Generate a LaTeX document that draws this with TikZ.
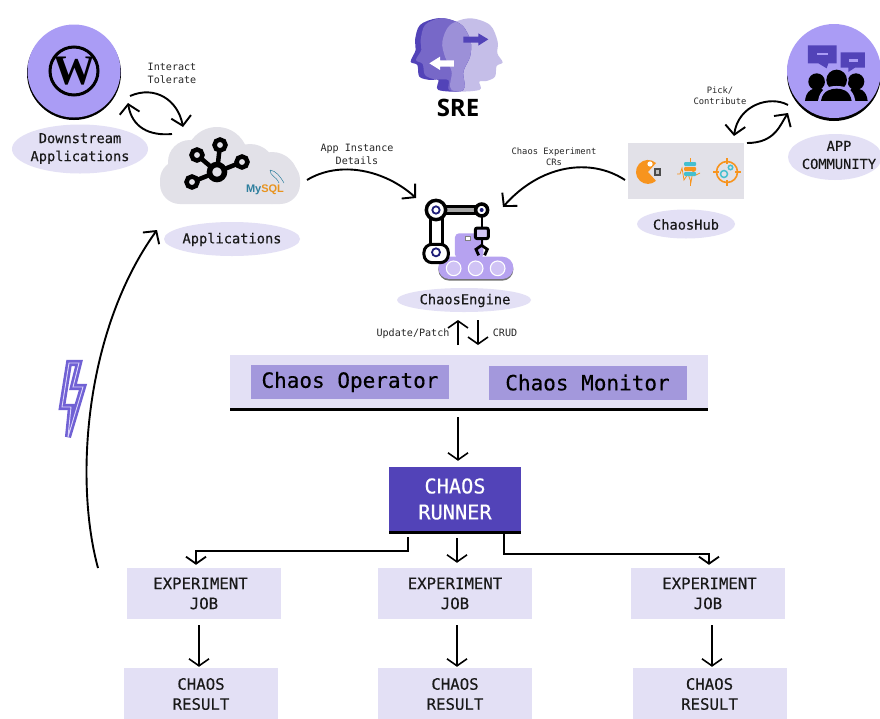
\documentclass[tikz,border=0pt]{standalone}
\usepackage{fontspec}
\setmainfont{DejaVu Sans Mono}
\newfontfamily\semib[FakeBold=0.3]{DejaVu Sans Mono}
\newfontfamily\srefont{Open Sans}
\newfontfamily\wpfont{Liberation Serif}
\newfontfamily\sqlfont{Liberation Sans}
\usetikzlibrary{arrows.meta,calc,shapes.geometric}
\definecolor{pale}{HTML}{E3E0F5}
\definecolor{lilac}{HTML}{AA9CF5}
\definecolor{midp}{HTML}{A398DC}
\definecolor{deep}{HTML}{5243B8}
\definecolor{medp}{HTML}{7768C8}
\definecolor{lighth}{HTML}{C5BEE8}
\definecolor{overl}{HTML}{9C90D8}
\definecolor{greyp}{HTML}{E2E1E8}
\definecolor{orng}{HTML}{F7941E}
\definecolor{teal1}{HTML}{45BFCF}
\definecolor{belt}{HTML}{B6A2F0}
\definecolor{navy1}{HTML}{1E1E78}
\definecolor{sqlb}{HTML}{2E7F9E}
\definecolor{sqlo}{HTML}{E8931E}
\definecolor{bolt}{HTML}{7061D4}
\newcommand{\rheadpath}{plot[smooth cycle,tension=.55] coordinates{(270,55)(330,75)(353,125)(352,160)(368,187)(350,198)(345,230)(320,243)(298,245)(298,270)(215,270)(215,215)(195,170)(187,125)(210,75)}}
\newcommand{\lheadpath}{plot[smooth cycle,tension=.55] coordinates{(170,55)(120,75)(105,120)(107,150)(92,185)(112,195)(118,230)(150,240)(175,240)(175,270)(250,270)(250,215)(270,170)(272,125)(250,80)(215,60)}}
\newcommand{\mheadpath}{plot[smooth cycle,tension=.55] coordinates{(178,55)(135,75)(122,120)(124,150)(108,180)(128,192)(135,225)(165,238)(205,240)(207,270)(250,270)(250,215)(270,170)(272,125)(250,80)(215,60)}}
\tikzset{
  oval/.style={ellipse,fill=pale,inner sep=0pt},
  lab/.style={align=center,inner sep=0pt,font=\semib\fontsize{13.7}{18}\selectfont,text=black!90},
  small/.style={align=center,inner sep=0pt,font=\fontsize{10.1}{13}\selectfont,text=black!85},
  tiny/.style={align=center,inner sep=0pt,font=\fontsize{8.8}{11.5}\selectfont,text=black!85},
  jobbox/.style={rectangle,fill=pale,minimum width=154pt,minimum height=51pt,inner sep=0pt,align=center,text=black!90,font=\semib\fontsize{15.7}{20}\selectfont},
  resbox/.style={jobbox,minimum height=52pt},
  inner/.style={rectangle,fill=midp,minimum width=198pt,minimum height=34pt,inner sep=0pt,text=black,font=\semib\fontsize{21}{24}\selectfont},
  kring/.style={circle,draw=black,fill=greyp,line width=4.5pt,minimum size=11pt,inner sep=0pt},
  arr/.style={line width=1.6pt,-{Straight Barb[length=7pt,width=20pt]}},
  curv/.style={line width=1.9pt,-{Straight Barb[length=9pt,width=20pt]}},
  elbow/.style={line width=1.8pt,-{Straight Barb[length=7pt,width=20pt]}},
}
\begin{document}
\begin{tikzpicture}[x=1pt,y=-1pt]
\useasboundingbox (0,0) rectangle (880,718);
\clip (0,0) rectangle (880,718);
\fill[white] (0,0) rectangle (880,718);

% ---- WordPress
\fill[black] (74,73) circle (47);
\node[circle,fill=lilac,minimum size=93pt,inner sep=0pt] (wp) at (74,71) {};
\node[circle,draw=black,line width=3pt,minimum size=48pt,inner sep=0pt] (wplogo) at (74,71) {};
\node[inner sep=0pt,font=\wpfont\bfseries\fontsize{42}{42}\selectfont] (wpw) at (74,71) {W};
\node[oval,minimum width=136pt,minimum height=49pt] (down) at (80,149) {};
\node[lab] (downt) at (80,148.5) {Downstream\\Applications};

% ---- Applications cloud
\fill[greyp,rounded corners=20pt] (160,160) rectangle (300,204);
\fill[greyp] (190,162) circle (22) (217,158) circle (31) (250,170) circle (26) (272,178) circle (26);
\coordinate (kcc) at (217,172);
\foreach \kx/\ky in {220/145,197/155,242/162,192/182}{\draw[line width=4.5pt] (kcc) -- (\kx,\ky);}
\node[circle,draw=black,fill=greyp,line width=5.5pt,minimum size=15pt,inner sep=0pt] (kc) at (217,172) {};
\node[kring] (k1) at (220,145) {};
\node[kring] (k2) at (197,155) {};
\node[kring] (k3) at (242,162) {};
\node[kring] (k4) at (192,182) {};
\node[inner sep=0pt,font=\sqlfont\bfseries\fontsize{11}{12}\selectfont] (mysql) at (265,190) {\textcolor{sqlb}{My}\textcolor{sqlo}{SQL}};
\draw[line width=.5pt,sqlb] (270,170) .. controls (276,171) and (280,176) .. (284,183) (270,170) .. controls (270,176) and (276,176) .. (279,183);
\node[oval,minimum width=136pt,minimum height=34pt] (appl) at (232,239) {};
\node[lab] (applt) at (232,239.5) {Applications};

% ---- SRE heads
\begin{scope}[shift={(380,0)},x=0.3333pt,y=-0.3333pt]
  \fill[lighth] \rheadpath;
  \fill[deep] \lheadpath;
  \fill[medp] \mheadpath;
  \begin{scope}
    \clip \lheadpath;
    \fill[overl] \rheadpath;
  \end{scope}
  \fill[deep] (250,110) -- (295,110) -- (295,100) -- (325,118) -- (295,137) -- (295,128) -- (250,128) -- cycle;
  \fill[white] (222,181) -- (180,181) -- (180,170) -- (148,190) -- (180,210) -- (180,200) -- (222,200) -- cycle;
\end{scope}
\node[inner sep=0pt,font=\srefont\bfseries\fontsize{24}{24}\selectfont] (sre) at (458,108) {SRE};

% ---- Community
\fill[black] (834,74) circle (47);
\node[circle,fill=lilac,minimum size=94pt,inner sep=0pt] (comm) at (834,71) {};
\begin{scope}[shift={(600,0)},x=0.3333pt,y=-0.3333pt]
  \fill[deep] (624,136) -- (710,136) -- (710,190) -- (685,190) -- (680,205) -- (655,190) -- (624,190) -- cycle;
  \fill[deep] (722,157) -- (795,157) -- (795,203) -- (765,203) -- (745,216) -- (745,203) -- (722,203) -- cycle;
  \fill[lilac] (650,158) rectangle (685,166);
  \fill[lilac] (746,177) rectangle (774,185);
  \fill[black] (650,245) circle (25) (768,245) circle (25);
  \fill[black] (615,303) .. controls (618,270) and (640,262) .. (665,265) -- (690,303) -- cycle;
  \fill[black] (803,303) .. controls (800,270) and (778,262) .. (755,265) -- (730,303) -- cycle;
  \fill[lilac] (710,240) circle (36);
  \fill[black] (710,240) circle (31);
  \fill[lilac] (654,303) .. controls (660,262) and (690,258) .. (710,258) .. controls (730,258) and (760,262) .. (766,303) -- cycle;
  \fill[black] (663,303) .. controls (668,270) and (695,266) .. (710,266) .. controls (725,266) and (750,270) .. (755,303) -- cycle;
\end{scope}
\node[oval,minimum width=94pt,minimum height=46pt] (commo) at (835,157) {};
\node[lab] (commt) at (839,155) {APP\\COMMUNITY};

% ---- ChaosHub
\node[rectangle,fill=greyp,minimum width=116pt,minimum height=56pt,inner sep=0pt] (hub) at (686,171) {};
\fill[orng] (648,172) -- (656,163) arc (-48:-312:12) -- cycle;
\fill[white] (650,164) circle (2.6);
\fill[black!70] (653.5,167.5) rectangle (661,175.5);
\fill[black!25] (655.5,169.5) rectangle (659,173.5);
\draw[orng,line width=.8pt] (677,174) -- (680,174) -- (682,168) -- (684,180) -- (688,174) -- (691,182) -- (693,170) -- (696,175) -- (700,173);
\draw[orng,line width=1pt] (690,158) -- (690,163) (690,181) -- (690,186);
\fill[teal1,rounded corners=1pt] (684,162) rectangle (696,166);
\fill[orng,rounded corners=1pt] (684,167) rectangle (696,171);
\fill[teal1,rounded corners=1pt] (684,172) rectangle (696,176);
\draw[orng,line width=1.6pt] (727,172) circle (10.5);
\draw[orng,line width=1.6pt] (713,172) -- (719,172) (735,172) -- (741,172) (727,158) -- (727,164) (727,180) -- (727,186);
\draw[teal1,line width=1.5pt] (724,174) circle (3.5) (730.5,167.5) circle (2.2);
\node[oval,minimum width=98pt,minimum height=29pt] (hubo) at (686,224) {};
\node[lab] (hubt) at (686,224.5) {ChaosHub};

% ---- Robot
\begin{scope}[shift={(360,190)},x=0.3333pt,y=-0.3333pt]
  \fill[belt,rounded corners=4pt] (285,130) rectangle (370,205);
  \fill[white,draw=black!50,line width=.4pt] (316,138) rectangle (332,152);
  \fill[black!55,rounded corners=11pt] (235,204) rectangle (460,272);
  \fill[belt,rounded corners=11pt] (235,200) rectangle (460,267);
  \foreach \cx in {281,347,413}{
    \fill[belt!65] (\cx,235) circle (22);
    \draw[white,line width=1.1pt] (\cx,235) circle (22);
  }
  \draw[line width=3pt,fill=white] (212,62) rectangle (248,180);
  \draw[line width=3pt,fill=black!35] (228,50) rectangle (365,70);
  \draw[line width=3pt,fill=white,rounded corners=8pt] (192,218) rectangle (265,163);
  \fill[white,draw=black,line width=3.5pt] (228,60) circle (29);
  \draw[navy1,line width=1.8pt] (228,60) circle (11);
  \fill[white,draw=black,line width=3.5pt] (365,60) circle (18);
  \fill[navy1] (365,60) circle (6);
  \draw[navy1,line width=1.8pt] (228,187) circle (12);
  \draw[line width=2pt] (365,78) -- (365,112);
  \draw[line width=3pt,fill=belt!60,rounded corners=2pt] (346,114) rectangle (385,146);
  \draw[line width=2pt] (365,146) -- (365,166);
  \draw[line width=2.8pt] (365,166) -- (348,178) -- (356,196) (365,166) -- (382,178) -- (374,196);
\end{scope}
\node[oval,minimum width=134pt,minimum height=24pt] (engo) at (464,300) {};
\node[lab] (engt) at (465,300.5) {ChaosEngine};

% ---- Operator panel
\fill[black] (230,356) rectangle (708,411);
\node[rectangle,fill=pale,minimum width=478pt,minimum height=53pt,inner sep=0pt] (panel) at (469,381.5) {};
\node[inner] (oper) at (350,382) {\raisebox{-1.5pt}{Chaos Operator}};
\node[inner] (moni) at (587.5,382.5) {\raisebox{-1pt}{Chaos Monitor}};

% ---- Runner
\fill[black] (389,468) rectangle (521,534);
\node[rectangle,fill=deep,minimum width=132pt,minimum height=64pt,inner sep=0pt,text=white,align=center,font=\semib\fontsize{20.3}{26}\selectfont] (runner) at (455,499) {CHAOS\\RUNNER};

% ---- Jobs and results
\node[jobbox] (job1) at (204,593.5) {\hspace*{-7pt}EXPERIMENT\\JOB};
\node[jobbox] (job2) at (455,593.5) {EXPERIMENT\\JOB};
\node[jobbox] (job3) at (708,593.5) {\hspace*{3pt}EXPERIMENT\\JOB};
\node[resbox] (res1) at (201,694) {CHAOS\\RESULT};
\node[resbox] (res2) at (455,694) {CHAOS\\RESULT};
\node[resbox] (res3) at (709.5,694) {CHAOS\\RESULT};

% ---- Lightning
\draw[bolt,line width=2.6pt,double=white!60!lilac,double distance=.9pt,line join=miter] (69,363) -- (79,363) -- (73,387) -- (83,387) -- (68,437) -- (71,407) -- (62,407) -- cycle;

% ---- Labels
\node[small] (il) at (172,73.5) {Interact\\Tolerate};
\node[small] (ai) at (357,154.5) {App Instance\\Details};
\node[tiny] (ce) at (554,156.5) {Chaos Experiment\\CRs};
\node[tiny] (pc) at (720,95.5) {Pick/\\Contribute};
\node[small] (up) at (413,334) {Update/Patch};
\node[small] (cr) at (505,333) {CRUD};

% ---- Named free ends
\coordinate (a1s) at (130,96);
\coordinate (a1e) at (183,127);
\coordinate (a2s) at (172,134);
\coordinate (a2e) at (128,103);
\coordinate (a3s) at (307,180);
\coordinate (a3e) at (416,198);
\coordinate (a4s) at (625,180);
\coordinate (a4e) at (503,207);
\coordinate (a5s) at (788,105);
\coordinate (a5e) at (734,136);
\coordinate (a6s) at (747,143);
\coordinate (a6e) at (788,113);
\coordinate (a7s) at (98,568);
\coordinate (a7e) at (157,230);
\coordinate (upb) at (458,345);
\coordinate (upt) at (458,320);
\coordinate (dnt) at (478,320);
\coordinate (dnb) at (478,345);

% ---- Connectors
\draw[curv] (a1s) .. controls (155,85) and (178,100) .. (a1e);
\draw[curv] (a2s) .. controls (150,136) and (132,128) .. (a2e);
\draw[curv] (a3s) .. controls (340,160) and (385,170) .. (a3e);
\draw[curv] (a4s) .. controls (590,157) and (540,165) .. (a4e);
\draw[curv] (a5s) .. controls (770,95) and (738,105) .. (a5e);
\draw[curv] (a6s) .. controls (775,143) and (780,125) .. (a6e);
\draw[curv] (a7s) .. controls (74,480) and (85,330) .. (a7e);
\draw[arr] (upb) -- (upt);
\draw[arr] (dnt) -- (dnb);
\draw[arr] ([xshift=-11pt,yshift=-9pt]panel.south) -- ([xshift=3pt,yshift=6pt]runner.north);
\draw[elbow] ([xshift=-47pt,yshift=-6pt]runner.south) -- ++(0,14) -| ([xshift=-8pt,yshift=3pt]job1.north);
\draw[arr] ([xshift=2pt,yshift=-7pt]runner.south) -- ([xshift=2pt,yshift=5pt]job2.north);
\draw[elbow] ([xshift=49pt,yshift=-2pt]runner.south) -- ++(0,21) -| ([xshift=1pt,yshift=3pt]job3.north);
\draw[arr] ([xshift=-5pt,yshift=-6pt]job1.south) -- ([xshift=-2pt,yshift=1pt]res1.north);
\draw[arr] ([xshift=2pt,yshift=-6pt]job2.south) -- ([xshift=2pt,yshift=1pt]res2.north);
\draw[arr] ([xshift=4pt,yshift=-6pt]job3.south) -- ([xshift=2.5pt,yshift=1pt]res3.north);
\end{tikzpicture}
\end{document}
